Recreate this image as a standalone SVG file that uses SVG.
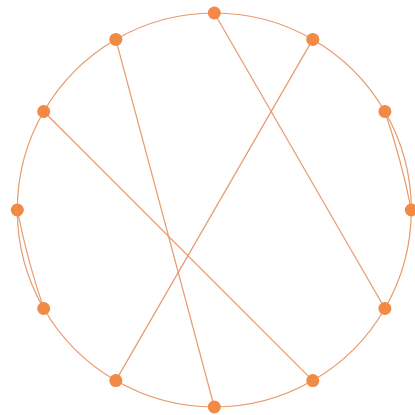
<svg xmlns="http://www.w3.org/2000/svg" width="415" height="415" viewBox="0 0 415 415">
<style>
.e{fill:none;stroke:#E9996C;stroke-width:1.2}
.n{fill:#F08A45}
</style>
<rect width="415" height="415" fill="#fff"/>
<g id="connectors">
<path class="e" d="M214.3,13 A197,197 0 0 1 312.8,39.4 A197,197 0 0 1 384.9,111.5 A197,197 0 0 1 411.3,210 A197,197 0 0 1 384.9,308.5 A197,197 0 0 1 312.8,380.6 A197,197 0 0 1 214.3,407 A197,197 0 0 1 115.8,380.6 A197,197 0 0 1 43.7,308.5 A197,197 0 0 1 17.3,210 A197,197 0 0 1 43.7,111.5 A197,197 0 0 1 115.8,39.4 A197,197 0 0 1 214.3,13"/>
<path class="e" d="M384.9,111.5 Q401.4,159.9 411.3,210"/>
<path class="e" d="M17.3,210 Q27.2,260.1 43.7,308.5"/>
<line class="e" x1="214.3" y1="13" x2="384.9" y2="308.5"/>
<line class="e" x1="115.8" y1="39.4" x2="214.3" y2="407"/>
<line class="e" x1="312.8" y1="39.4" x2="115.8" y2="380.6"/>
<line class="e" x1="43.7" y1="111.5" x2="312.8" y2="380.6"/>
</g>
<g id="n0"><circle class="n" cx="214.3" cy="13" r="6.5"/></g>
<g id="n1"><circle class="n" cx="312.8" cy="39.4" r="6.5"/></g>
<g id="n2"><circle class="n" cx="384.9" cy="111.5" r="6.5"/></g>
<g id="n3"><circle class="n" cx="411.3" cy="210" r="6.5"/></g>
<g id="n4"><circle class="n" cx="384.9" cy="308.5" r="6.5"/></g>
<g id="n5"><circle class="n" cx="312.8" cy="380.6" r="6.5"/></g>
<g id="n6"><circle class="n" cx="214.3" cy="407" r="6.5"/></g>
<g id="n7"><circle class="n" cx="115.8" cy="380.6" r="6.5"/></g>
<g id="n8"><circle class="n" cx="43.7" cy="308.5" r="6.5"/></g>
<g id="n9"><circle class="n" cx="17.3" cy="210" r="6.5"/></g>
<g id="n10"><circle class="n" cx="43.7" cy="111.5" r="6.5"/></g>
<g id="n11"><circle class="n" cx="115.8" cy="39.4" r="6.5"/></g>
</svg>
